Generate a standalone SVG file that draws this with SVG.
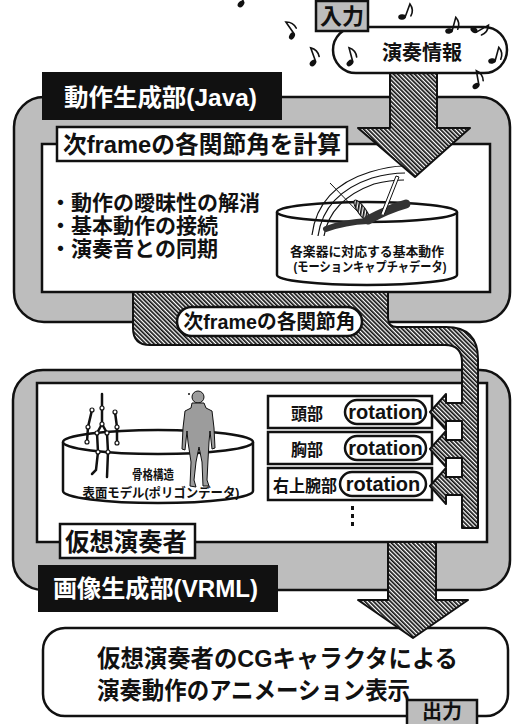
<svg xmlns="http://www.w3.org/2000/svg" width="518" height="724" viewBox="0 0 518 724">
  <defs>
    <style>
      .t { font-family: "Liberation Sans", "Noto Sans CJK JP", sans-serif; font-weight: 700; fill: #111; }
      .w { fill: #fff; }
      .frame { fill: #bdbdbd; stroke: #111; stroke-width: 2.5; }
      .panel { fill: #fff; stroke: #111; stroke-width: 2.5; }
      .label { fill: #111; }
      .tag { fill: #bdbdbd; stroke: #111; stroke-width: 2.5; }
      .hatch { fill: url(#hatch); stroke: #111; stroke-width: 2; stroke-linejoin: round; }
      .thin { fill: none; stroke: #111; stroke-width: 1.2; }
      .bone { fill: none; stroke: #111; stroke-width: 2.5; stroke-linecap: round; }
      .joint { fill: #fff; stroke: #111; stroke-width: 1.2; }
    </style>
    <pattern id="hatch" width="3" height="3" patternUnits="userSpaceOnUse" patternTransform="rotate(-45)">
      <rect width="3" height="3" fill="#fff"/>
      <rect width="1.7" height="3" fill="#111"/>
    </pattern>
    <!-- eighth note, head at the origin -->
    <g id="note">
      <ellipse cx="0" cy="0" rx="3.8" ry="2.7" transform="rotate(-25)" fill="#111"/>
      <path d="M3 -1 V-15 Q9 -11 8 -4" fill="none" stroke="#111" stroke-width="1.6" stroke-linecap="round"/>
    </g>
  </defs>

  <!-- motion generation unit -->
  <g id="motion-unit">
    <rect class="frame" x="14" y="97" width="496" height="225" rx="30"/>
    <rect class="label" x="42" y="72" width="240" height="48"/>
    <text class="t w" x="64" y="106" font-size="24" textLength="193" lengthAdjust="spacingAndGlyphs">動作生成部(Java)</text>
    <rect class="panel" x="42" y="144" width="448" height="148"/>
    <rect class="panel" x="57" y="127" width="290" height="34"/>
    <text class="t" x="63" y="153" font-size="24" textLength="278" lengthAdjust="spacingAndGlyphs">次frameの各関節角を計算</text>
    <text class="t" x="50" y="210" font-size="21" textLength="210" lengthAdjust="spacingAndGlyphs">・動作の曖昧性の解消</text>
    <text class="t" x="50" y="233" font-size="21" textLength="168" lengthAdjust="spacingAndGlyphs">・基本動作の接続</text>
    <text class="t" x="50" y="256" font-size="21" textLength="168" lengthAdjust="spacingAndGlyphs">・演奏音との同期</text>
  </g>

  <!-- motion capture database -->
  <g id="motion-db">
    <path class="panel" d="M277 212 V275 A90 10 0 0 0 457 275 V212"/>
    <ellipse class="panel" cx="367" cy="212" rx="90" ry="10"/>
    <path class="thin" d="M312 235 Q318 188 370 172 Q390 166 404 166"/>
    <path class="thin" d="M318 236 Q324 194 372 178 Q390 173 405 173"/>
    <path class="thin" d="M324 236 Q330 200 374 184 Q390 180 404 180"/>
    <line x1="330" y1="183" x2="360" y2="214" stroke="#111" stroke-width="1"/>
    <ellipse cx="362" cy="211" rx="13" ry="4" transform="rotate(55 362 211)" fill="url(#hatch)" stroke="#111" stroke-width="1"/>
    <path d="M326 229 Q345 222 368 221" fill="none" stroke="#333" stroke-width="6" stroke-linecap="round"/>
    <path d="M368 220 Q388 209 406 204" fill="none" stroke="#333" stroke-width="9" stroke-linecap="round"/>
    <path d="M381 214 L396 176 L399 177 L384 215" fill="#fff" stroke="#111" stroke-width="1"/>
    <circle cx="413" cy="171" r="3" fill="#111"/>
    <text class="t" x="367" y="256" font-size="13" text-anchor="middle" textLength="154" lengthAdjust="spacingAndGlyphs">各楽器に対応する基本動作</text>
    <text class="t" x="370" y="271" font-size="13" text-anchor="middle" textLength="153" lengthAdjust="spacingAndGlyphs">(モーションキャプチャデータ)</text>
  </g>

  <!-- image generation unit -->
  <g id="image-unit">
    <rect class="frame" x="13" y="370" width="497" height="220" rx="30"/>
    <rect class="panel" x="37" y="383" width="450" height="159"/>
  </g>

  <!-- skeleton / surface model database -->
  <g id="model-db">
    <path class="panel" d="M63 442 V491 A95 12 0 0 0 253 491 V442"/>
    <ellipse class="panel" cx="158" cy="442" rx="95" ry="12"/>
    <path class="bone" d="M102 394 V424 M97 433 L98 452 L96 470 L92 474 M107 433 L108 452 L107 477 M92 410 L88 427 L87 442 M115 412 L117 427 L117 443 M102 424 L97 433 M102 424 L107 433"/>
    <g class="joint">
      <circle cx="102" cy="408" r="2"/><circle cx="102" cy="424" r="2"/>
      <circle cx="92" cy="410" r="2"/><circle cx="88" cy="427" r="2"/><circle cx="87" cy="442" r="2"/>
      <circle cx="115" cy="412" r="2"/><circle cx="117" cy="427" r="2"/><circle cx="117" cy="443" r="2"/>
      <circle cx="97" cy="433" r="2"/><circle cx="107" cy="433" r="2"/>
      <circle cx="98" cy="452" r="2"/><circle cx="108" cy="452" r="2"/>
    </g>
    <circle cx="198" cy="397" r="6" fill="#9c9c9c" stroke="#111" stroke-width="1"/>
    <path d="M192 403 L204 403 L206 408 L212 411 L214 428 L215 448 L212 449 L210 431 L209 442 L208 460 L207 480 L209 486 L203 486 L202 462 L199 447 L196 462 L194 480 L196 487 L190 486 L191 462 L188 442 L187 431 L185 450 L182 449 L183 428 L185 411 L191 408 Z" fill="#9c9c9c" stroke="#111" stroke-width="1"/>
    <circle cx="189" cy="394" r="1" fill="#111"/>
    <text class="t" x="153" y="479" font-size="13" text-anchor="middle" textLength="42" lengthAdjust="spacingAndGlyphs">骨格構造</text>
    <text class="t" x="161" y="497" font-size="13" text-anchor="middle" textLength="157" lengthAdjust="spacingAndGlyphs">表面モデル(ポリゴンデータ)</text>
  </g>

  <!-- joint rows -->
  <g id="row-head">
    <rect class="panel" x="268" y="396" width="164" height="32"/>
    <text class="t" x="291" y="420" font-size="17" textLength="32" lengthAdjust="spacingAndGlyphs">頭部</text>
    <rect class="panel" x="345" y="400" width="81" height="24" rx="12"/>
    <text class="t" x="385.5" y="419" font-size="20" text-anchor="middle">rotation</text>
  </g>
  <g id="row-chest">
    <rect class="panel" x="268" y="432" width="164" height="32"/>
    <text class="t" x="291" y="456" font-size="17" textLength="32" lengthAdjust="spacingAndGlyphs">胸部</text>
    <rect class="panel" x="345" y="436" width="81" height="24" rx="12"/>
    <text class="t" x="385.5" y="455" font-size="20" text-anchor="middle">rotation</text>
  </g>
  <g id="row-upper-arm">
    <rect class="panel" x="268" y="468" width="164" height="32"/>
    <text class="t" x="273" y="492" font-size="17" textLength="64" lengthAdjust="spacingAndGlyphs">右上腕部</text>
    <rect class="panel" x="340" y="472" width="86" height="24" rx="12"/>
    <text class="t" x="383" y="491" font-size="20" text-anchor="middle">rotation</text>
  </g>
  <g id="row-more">
    <rect x="351" y="506" width="3" height="4" fill="#111"/>
    <rect x="351" y="514" width="3" height="4" fill="#111"/>
    <rect x="351" y="522" width="3" height="4" fill="#111"/>
  </g>

  <g id="performer-title">
    <rect class="panel" x="60" y="524" width="135" height="34"/>
    <text class="t" x="65" y="551" font-size="25" textLength="122" lengthAdjust="spacingAndGlyphs">仮想演奏者</text>
  </g>

  <g id="vrml-label">
    <rect class="label" x="38" y="565" width="240" height="47"/>
    <text class="t w" x="53" y="597" font-size="24" textLength="205" lengthAdjust="spacingAndGlyphs">画像生成部(VRML)</text>
  </g>

  <!-- output -->
  <g id="output">
    <rect class="panel" x="43" y="628" width="465" height="88" rx="22"/>
    <text class="t" x="97" y="667" font-size="24" textLength="361" lengthAdjust="spacingAndGlyphs">仮想演奏者のCGキャラクタによる</text>
    <text class="t" x="97" y="699" font-size="24" textLength="313" lengthAdjust="spacingAndGlyphs">演奏動作のアニメーション表示</text>
  </g>

  <!-- connectors -->
  <g id="connectors">
    <path class="hatch" d="M133 292 H388 V318 Q388 327 397 327 H446 Q478 327 478 359 V528 H462 V495 H446 V504 L430 486 L446 468 V477 H462 V458 H446 V467 L430 449 L446 431 V440 H462 V421 H446 V430 L430 412 L446 394 V403 H462 V362 Q462 345 445 345 H150 Q133 345 133 328 Z"/>
    <path class="hatch" d="M390 72 H437 V128 H470 L415 177 L358 128 H390 Z"/>
    <path class="hatch" d="M388 542 H436 V600 H468 L413 638 L358 600 H388 Z"/>
  </g>

  <g id="joint-angles">
    <rect class="panel" x="177" y="307" width="185" height="29" rx="14.5"/>
    <text class="t" x="269.5" y="329" font-size="20" text-anchor="middle" textLength="172" lengthAdjust="spacingAndGlyphs">次frameの各関節角</text>
  </g>

  <g id="output-tag">
    <rect class="tag" x="407" y="700" width="70" height="27"/>
    <text class="t" x="442" y="719" font-size="20" text-anchor="middle">出力</text>
  </g>

  <!-- performance input -->
  <g id="input">
    <rect class="panel" x="333" y="27" width="174" height="46" rx="23"/>
    <text class="t" x="422" y="60" font-size="20" text-anchor="middle" textLength="80" lengthAdjust="spacingAndGlyphs">演奏情報</text>
    <rect class="tag" x="316" y="1" width="52" height="30"/>
    <text class="t" x="342" y="24" font-size="22" text-anchor="middle">入力</text>
  </g>

  <g id="notes">
    <use href="#note" transform="translate(241 4) rotate(-20)"/>
    <use href="#note" transform="translate(292 36) rotate(-35)"/>
    <use href="#note" transform="translate(313 63) rotate(-20)"/>
    <use href="#note" transform="translate(350 63) rotate(-15)"/>
    <use href="#note" transform="translate(402 17) rotate(20)"/>
    <use href="#note" transform="translate(449 31) rotate(15)"/>
    <use href="#note" transform="translate(474 30) rotate(60)"/>
    <use href="#note" transform="translate(492 61) rotate(15)"/>
    <use href="#note" transform="translate(476 86) rotate(-10)"/>
  </g>
</svg>
